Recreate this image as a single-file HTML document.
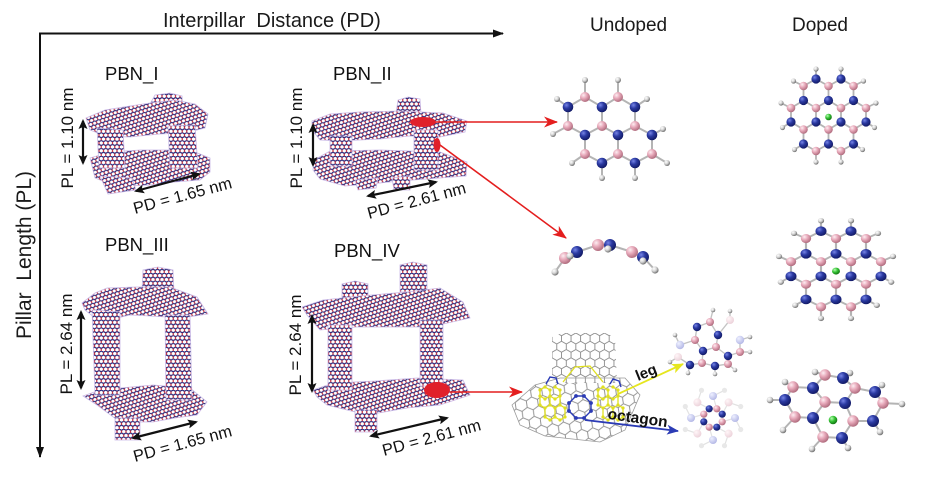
<!DOCTYPE html>
<html><head><meta charset="utf-8"><style>
html,body{margin:0;padding:0;background:#fff;}
svg{display:block;font-family:"Liberation Sans",Arial,sans-serif;}
</style></head><body>
<svg width="925" height="478" viewBox="0 0 925 478" xmlns="http://www.w3.org/2000/svg">
<defs>
<radialGradient id="gB" cx="35%" cy="32%" r="70%"><stop offset="0" stop-color="#7684e6"/><stop offset="0.45" stop-color="#2b3aa2"/><stop offset="1" stop-color="#121a66"/></radialGradient>
<radialGradient id="gP" cx="35%" cy="32%" r="70%"><stop offset="0" stop-color="#fdeef2"/><stop offset="0.45" stop-color="#e8aabb"/><stop offset="1" stop-color="#b06c7e"/></radialGradient>
<radialGradient id="gH" cx="35%" cy="32%" r="70%"><stop offset="0" stop-color="#ffffff"/><stop offset="0.5" stop-color="#d4d4d4"/><stop offset="1" stop-color="#6c6c6c"/></radialGradient>
<radialGradient id="gG" cx="35%" cy="32%" r="70%"><stop offset="0" stop-color="#b9ffb3"/><stop offset="0.5" stop-color="#34c234"/><stop offset="1" stop-color="#137313"/></radialGradient>
<radialGradient id="gLB" cx="35%" cy="32%" r="70%"><stop offset="0" stop-color="#eef0ff"/><stop offset="1" stop-color="#b4b8e6"/></radialGradient>
<radialGradient id="gLP" cx="35%" cy="32%" r="70%"><stop offset="0" stop-color="#fff6f8"/><stop offset="1" stop-color="#ecd2da"/></radialGradient>

<pattern id="bn" width="4.157" height="7.2" patternUnits="userSpaceOnUse" patternTransform="rotate(-18)">
<rect width="4.157" height="7.2" fill="#fff"/>
<path d="M0,1.2L2.078,0L4.157,1.2M4.157,3.6L2.078,4.8L0,3.6" stroke="#23257a" stroke-width="1.2" fill="none"/>
<path d="M0,1.2V3.6M4.157,1.2V3.6M2.078,4.8V7.2" stroke="#c23444" stroke-width="1.2" fill="none"/>
</pattern>
<pattern id="bnv" width="4.5" height="7.8" patternUnits="userSpaceOnUse">
<rect width="4.5" height="7.8" fill="#fff"/>
<path d="M0,1.3L2.25,0L4.5,1.3M4.5,3.9L2.25,5.2L0,3.9" stroke="#23257a" stroke-width="1.25" fill="none"/>
<path d="M0,1.3V3.9M4.5,1.3V3.9M2.25,5.2V7.8" stroke="#c23444" stroke-width="1.25" fill="none"/>
</pattern>
<pattern id="gh" width="11.26" height="19.5" patternUnits="userSpaceOnUse" patternTransform="translate(512,380) rotate(-8)">
<path d="M5.63,0L11.26,3.25V9.75L5.63,13L0,9.75V3.25Z M5.63,13V19.5" stroke="#8a8a8a" stroke-width="0.9" fill="none"/>
</pattern>
<pattern id="gt" width="9.53" height="16.5" patternUnits="userSpaceOnUse" patternTransform="translate(552,333)">
<rect width="9.53" height="16.5" fill="#fff"/>
<path d="M4.765,0L9.53,2.75V8.25L4.765,11L0,8.25V2.75Z M4.765,11V16.5" stroke="#8a8a8a" stroke-width="0.9" fill="none"/>
</pattern>

<marker id="ak" markerWidth="11" markerHeight="10" refX="8" refY="5" orient="auto-start-reverse" markerUnits="userSpaceOnUse"><path d="M0,0.5 L10,5 L0,9.5 L2,5Z" fill="#111"/></marker>
<marker id="ax" markerWidth="12" markerHeight="9" refX="10" refY="4.5" orient="auto" markerUnits="userSpaceOnUse"><path d="M0,0.5 L11,4.5 L0,8.5Z" fill="#111"/></marker>
<marker id="ar" markerWidth="15" markerHeight="11" refX="13" refY="5.5" orient="auto" markerUnits="userSpaceOnUse"><path d="M0,0 L14,5.5 L0,11 L4,5.5Z" fill="#e41e1e"/></marker>
<marker id="ay" markerWidth="13" markerHeight="10" refX="11" refY="5" orient="auto" markerUnits="userSpaceOnUse"><path d="M0,0 L12,5 L0,10 L3,5Z" fill="#e6e61e"/></marker>
<marker id="ab" markerWidth="13" markerHeight="10" refX="11" refY="5" orient="auto" markerUnits="userSpaceOnUse"><path d="M0,0 L12,5 L0,10 L3,5Z" fill="#2b3bb5"/></marker>

<g id="dop">
<path d="M-12.5,-36L-25,-29V-14.5L-37.5,-7V7L-25,14.5V29L-12.5,36L0,29L12.5,36L25,29V14.5L37.5,7V-7L25,-14.5V-29L12.5,-36L0,-29L-12.5,-36
M0,-29V-14.5L-12.5,-7L-25,-14.5 M0,-14.5L12.5,-7L25,-14.5 M-12.5,-7V7L-25,14.5 M12.5,-7V7L25,14.5 M-12.5,7L0,14.5L12.5,7 M0,14.5V29
M-12.5,-36V-46 M12.5,-36V-46 M-25,-29L-35,-34 M25,-29L35,-34 M-37.5,-7L-47.5,-12 M37.5,-7L47.5,-12 M-37.5,7L-46,12.5 M37.5,7L46,12.5 M-25,29L-34,34.5 M25,29L34,34.5 M-12.5,36V47 M12.5,36V47" stroke="#b4b4b4" stroke-width="1.8" fill="none"/>
<g fill="url(#gH)">
<circle cx="-12.5" cy="-46" r="2.6"/><circle cx="12.5" cy="-46" r="2.6"/><circle cx="-35" cy="-34" r="2.6"/><circle cx="35" cy="-34" r="2.6"/>
<circle cx="-47.5" cy="-12" r="2.6"/><circle cx="47.5" cy="-12" r="2.6"/><circle cx="-46" cy="12.5" r="2.6"/><circle cx="46" cy="12.5" r="2.6"/>
<circle cx="-34" cy="34.5" r="2.6"/><circle cx="34" cy="34.5" r="2.6"/><circle cx="-12.5" cy="47" r="2.6"/><circle cx="12.5" cy="47" r="2.6"/>
</g>
<g fill="url(#gP)">
<circle cx="-25" cy="-29" r="4.3"/><circle cx="0" cy="-29" r="4.3"/><circle cx="25" cy="-29" r="4.3"/>
<circle cx="-37.5" cy="-7" r="4.3"/><circle cx="-12.5" cy="-7" r="4.3"/><circle cx="12.5" cy="-7" r="4.3"/><circle cx="37.5" cy="-7" r="4.3"/>
<circle cx="-25" cy="14.5" r="4.3"/><circle cx="0" cy="14.5" r="4.3"/><circle cx="25" cy="14.5" r="4.3"/>
<circle cx="-12.5" cy="36" r="4.3"/><circle cx="12.5" cy="36" r="4.3"/>
</g>
<g fill="url(#gB)">
<circle cx="-12.5" cy="-36" r="4.6"/><circle cx="12.5" cy="-36" r="4.6"/>
<circle cx="-25" cy="-14.5" r="4.6"/><circle cx="0" cy="-14.5" r="4.6"/><circle cx="25" cy="-14.5" r="4.6"/>
<circle cx="-37.5" cy="7" r="4.6"/><circle cx="-12.5" cy="7" r="4.6"/><circle cx="12.5" cy="7" r="4.6"/><circle cx="37.5" cy="7" r="4.6"/>
<circle cx="-25" cy="29" r="4.6"/><circle cx="0" cy="29" r="4.6"/><circle cx="25" cy="29" r="4.6"/>
</g>
<circle cx="0" cy="2" r="3.3" fill="url(#gG)"/>
</g>
</defs>

<!-- Axes -->
<line x1="40" y1="33.5" x2="503" y2="33.5" stroke="#111" stroke-width="2" marker-end="url(#ax)"/>
<line x1="40" y1="32.5" x2="40" y2="457" stroke="#111" stroke-width="2" marker-end="url(#ax)"/>
<text x="163" y="27" font-size="20" fill="#1a1a1a">Interpillar&#160; Distance (PD)</text>
<text transform="translate(31,255) rotate(-90)" text-anchor="middle" font-size="21" fill="#1a1a1a">Pillar&#160; Length (PL)</text>

<text x="590" y="31" font-size="19" fill="#1a1a1a">Undoped</text>
<text x="792" y="31" font-size="19" fill="#1a1a1a">Doped</text>

<!-- labels -->
<g font-size="18.5" fill="#111">
<text x="105" y="80">PBN_I</text>
<text x="333" y="80">PBN_II</text>
<text x="105" y="251">PBN_III</text>
<text x="334" y="257">PBN_IV</text>
</g>
<g font-size="17" fill="#111" text-anchor="middle">
<text transform="translate(73,138) rotate(-90)">PL = 1.10 nm</text>
<text transform="translate(302,138) rotate(-90)">PL = 1.10 nm</text>
<text transform="translate(72,344) rotate(-90)">PL = 2.64 nm</text>
<text transform="translate(301,345) rotate(-90)">PL = 2.64 nm</text>
</g>
<g font-size="16.5" fill="#111">
<text transform="translate(135,214) rotate(-15)">PD = 1.65 nm</text>
<text transform="translate(369,219) rotate(-15)">PD = 2.61 nm</text>
<text transform="translate(135,462) rotate(-15)">PD = 1.65 nm</text>
<text transform="translate(384,456) rotate(-15)">PD = 2.61 nm</text>
</g>

<!-- PBN_I structure -->
<g stroke="#c9b8e6" stroke-width="0.8">
<polygon points="150,104 155,95 170,93 182,96 183,108 165,110" fill="url(#bnv)"/>
<polygon points="90,158 110,152 140,150 170,150 195,152 210,158 210,172 200,180 175,182 150,185 130,186 110,184 95,178" fill="url(#bn)"/>
<polygon points="100,176 132,178 136,190 108,194" fill="url(#bn)"/>
<polygon points="86,118 105,110 130,106 150,103 175,100 195,104 208,114 205,128 185,133 160,134 130,137 105,136 90,130" fill="url(#bn)"/>
<polygon points="97,128 123,130 125,168 99,168" fill="url(#bnv)"/>
<polygon points="168,126 195,125 198,168 170,168" fill="url(#bnv)"/>
</g>

<!-- PBN_II structure -->
<g stroke="#c9b8e6" stroke-width="0.8">
<polygon points="396,113 398,100 408,97 420,99 421,114" fill="url(#bnv)"/>
<polygon points="314,160 330,151 380,150 440,152 467,162 466,176 440,178 400,181 370,184 345,186 320,179 313,170" fill="url(#bn)"/>
<polygon points="392,178 410,176 410,190 394,190" fill="url(#bnv)"/>
<polygon points="355,180 378,178 376,188 358,190" fill="url(#bn)"/>
<polygon points="312,121 330,114 360,112 400,111 443,113 467,121 465,132 440,137 410,136 380,139 340,141 320,140 312,130" fill="url(#bn)"/>
<polygon points="330,136 352,136 352,166 330,166" fill="url(#bnv)"/>
<polygon points="414,130 438,130 438,170 414,170" fill="url(#bnv)"/>
</g>
<ellipse cx="423" cy="122" rx="13" ry="5" fill="#e0202a"/>
<ellipse cx="437" cy="145" rx="3.5" ry="7" fill="#e0202a"/>

<!-- PBN_III structure -->
<g stroke="#c9b8e6" stroke-width="0.8">
<polygon points="142,290 143,270 158,267 173,270 174,292" fill="url(#bnv)"/>
<polygon points="83,396 100,390 120,388 153,385 190,388 207,402 197,415 175,418 153,422 120,422 97,405" fill="url(#bn)"/>
<polygon points="115,418 140,418 140,440 115,440" fill="url(#bnv)"/>
<polygon points="82,303 95,293 107,288 137,287 170,287 197,297 208,314 182,318 150,316 130,315 100,322 85,310" fill="url(#bn)"/>
<polygon points="92,310 120,312 120,395 95,395" fill="url(#bnv)"/>
<polygon points="165,315 190,315 192,400 166,400" fill="url(#bnv)"/>
</g>

<!-- PBN_IV structure -->
<g stroke="#c9b8e6" stroke-width="0.8">
<polygon points="342,305 342,284 355,281 368,284 368,305" fill="url(#bnv)"/>
<polygon points="400,292 400,265 413,262 427,265 427,292" fill="url(#bnv)"/>
<polygon points="313,390 333,383 375,381 417,378 463,380 470,395 440,405 407,408 367,415 327,405 317,397" fill="url(#bn)"/>
<polygon points="355,410 377,410 377,432 355,432" fill="url(#bnv)"/>
<polygon points="302,307 323,300 360,296 407,292 440,288 463,302 470,318 430,327 395,327 357,327 320,330 307,315" fill="url(#bn)"/>
<polygon points="328,325 352,325 352,390 328,390" fill="url(#bnv)"/>
<polygon points="420,320 443,320 443,386 420,386" fill="url(#bnv)"/>
</g>
<ellipse cx="437" cy="390" rx="13" ry="8" fill="#e0202a"/>

<!-- black dimension arrows -->
<g stroke="#111" stroke-width="2.2" fill="none">
<line x1="83" y1="121" x2="83" y2="163" marker-start="url(#ak)" marker-end="url(#ak)"/>
<line x1="313" y1="125" x2="313" y2="165" marker-start="url(#ak)" marker-end="url(#ak)"/>
<line x1="81" y1="312" x2="81" y2="388" marker-start="url(#ak)" marker-end="url(#ak)"/>
<line x1="312" y1="316" x2="312" y2="391" marker-start="url(#ak)" marker-end="url(#ak)"/>
<line x1="136" y1="191" x2="199" y2="174" marker-start="url(#ak)" marker-end="url(#ak)"/>
<line x1="368" y1="196" x2="436" y2="182" marker-start="url(#ak)" marker-end="url(#ak)"/>
<line x1="133" y1="438" x2="196" y2="422" marker-start="url(#ak)" marker-end="url(#ak)"/>
<line x1="371" y1="436" x2="447" y2="418" marker-start="url(#ak)" marker-end="url(#ak)"/>
</g>

<!-- red arrows -->
<g stroke="#e41e1e" stroke-width="1.6" fill="none">
<line x1="436" y1="122" x2="557" y2="122" marker-end="url(#ar)"/>
<line x1="440" y1="145" x2="566" y2="238" marker-end="url(#ar)"/>
<line x1="450" y1="392" x2="522" y2="392" marker-end="url(#ar)"/>
</g>

<!-- Undoped top molecule -->
<path d="M568,107L585,97L602,107L618,97L635,107 M568,107V126L585,135L602,126L618,135L635,126L652,135 M602,107V126 M635,107V126 M585,135V154L602,163L618,154L635,163L652,154V135 M618,135V154 M585,97V80 M618,97V80 M568,107L557,99 M635,107L647,99 M568,126L553,134 M652,135L663,129 M585,154L572,163 M652,154L667,163 M602,163V178 M635,163V178" stroke="#b4b4b4" stroke-width="2" fill="none"/>
<g fill="url(#gH)">
<circle cx="585" cy="80" r="3"/><circle cx="618" cy="80" r="3"/><circle cx="557" cy="99" r="3"/><circle cx="647" cy="99" r="3"/>
<circle cx="553" cy="134" r="3"/><circle cx="663" cy="129" r="3"/><circle cx="572" cy="163" r="3"/><circle cx="667" cy="163" r="3"/>
<circle cx="602" cy="178" r="3"/><circle cx="635" cy="178" r="3"/>
</g>
<g fill="url(#gP)">
<circle cx="585" cy="97" r="5"/><circle cx="618" cy="97" r="5"/><circle cx="568" cy="126" r="5"/><circle cx="602" cy="126" r="5"/>
<circle cx="635" cy="126" r="5"/><circle cx="585" cy="154" r="5"/><circle cx="618" cy="154" r="5"/><circle cx="652" cy="154" r="5"/>
</g>
<g fill="url(#gB)">
<circle cx="568" cy="107" r="5.3"/><circle cx="602" cy="107" r="5.3"/><circle cx="635" cy="107" r="5.3"/><circle cx="585" cy="135" r="5.3"/>
<circle cx="618" cy="135" r="5.3"/><circle cx="652" cy="135" r="5.3"/><circle cx="602" cy="163" r="5.3"/><circle cx="635" cy="163" r="5.3"/>
</g>

<!-- Undoped middle (curved) -->
<path d="M555,272L565,258 M577,252L598,245 M610,245L632,252 M643,257L655,270" stroke="#b4b4b4" stroke-width="2" fill="none"/>
<circle cx="555" cy="272" r="3.6" fill="url(#gH)"/>
<circle cx="655" cy="270" r="3.6" fill="url(#gH)"/>
<circle cx="565" cy="258" r="6" fill="url(#gP)"/>
<circle cx="577" cy="252" r="6" fill="url(#gB)"/>
<circle cx="570" cy="256" r="3.6" fill="url(#gH)"/>
<circle cx="598" cy="245" r="6" fill="url(#gP)"/>
<circle cx="610" cy="245" r="6" fill="url(#gB)"/>
<circle cx="608" cy="249" r="3.6" fill="url(#gH)"/>
<circle cx="632" cy="252" r="6" fill="url(#gP)"/>
<circle cx="643" cy="257" r="6" fill="url(#gB)"/>
<circle cx="643" cy="261" r="3.6" fill="url(#gH)"/>

<!-- Doped molecules -->
<use href="#dop" transform="translate(828.5,115)"/>
<use href="#dop" transform="translate(836,269) scale(1.2,1.05)"/>

<!-- Doped bottom -->
<path d="M825,375L843,378L855,388L845,403L825,402L813,388Z M813,388L793,387L785,400L795,417L813,418L825,402 M855,388L875,392L883,403L873,421L853,421L845,403 M813,418L823,437L842,438L853,421 M825,375L815,372 M843,378L850,373 M793,387L785,382 M875,392L882,385 M785,400L770,400 M883,403L902,404 M795,417L783,430 M873,421L880,432 M823,437L812,449 M842,438L848,448" stroke="#b4b4b4" stroke-width="2" fill="none"/>
<g fill="url(#gH)">
<circle cx="815" cy="372" r="3.3"/><circle cx="850" cy="373" r="3.3"/><circle cx="785" cy="382" r="3.3"/><circle cx="882" cy="385" r="3.3"/>
<circle cx="770" cy="400" r="3.3"/><circle cx="902" cy="404" r="3.3"/><circle cx="783" cy="430" r="3.3"/><circle cx="880" cy="432" r="3.3"/>
<circle cx="812" cy="449" r="3.3"/><circle cx="848" cy="448" r="3.3"/>
</g>
<g fill="url(#gP)">
<circle cx="825" cy="375" r="5.7"/><circle cx="855" cy="388" r="5.7"/><circle cx="825" cy="402" r="5.7"/><circle cx="793" cy="387" r="5.7"/>
<circle cx="795" cy="417" r="5.7"/><circle cx="883" cy="403" r="5.7"/><circle cx="853" cy="421" r="5.7"/><circle cx="823" cy="437" r="5.7"/>
</g>
<g fill="url(#gB)">
<circle cx="843" cy="378" r="6"/><circle cx="845" cy="403" r="6"/><circle cx="813" cy="388" r="6"/><circle cx="785" cy="400" r="6"/>
<circle cx="813" cy="418" r="6"/><circle cx="875" cy="392" r="6"/><circle cx="873" cy="421" r="6"/><circle cx="842" cy="438" r="6"/>
</g>
<circle cx="833" cy="420" r="4.3" fill="url(#gG)"/>

<!-- Wireframe tube on sheet -->
<polygon points="512,405 535,385 560,378 625,378 640,395 625,430 600,442 545,436 520,425" fill="url(#gh)"/>
<polygon points="552,383 552,337 562,333 605,333 615,337 617,383" fill="url(#gt)"/>
<polygon points="512,405 535,385 560,378 625,378 640,395 625,430 600,442 545,436 520,425" fill="none" stroke="#9a9a9a" stroke-width="0.8"/>
<g stroke="#e0e020" stroke-width="1.3" fill="none">
<path d="M563,382L575,367L590,366L603,382"/>
<path d="M545,387L550,390V396L545,399L540,396V390Z M555,387L560,390V396L555,399L550,396 M550,396V405L545,408L540,405V396 M560,396V405L555,408L550,405 M545,408V417L550,420L555,417V408 M555,417L560,420L565,417V408L560,405"/>
<path d="M603,387L608,390V396L603,399L598,396V390Z M613,387L618,390V396L613,399L608,396 M608,396V405L603,408L598,405V396 M618,396V405L613,408L608,405 M603,408V417L608,420L613,417V408 M613,417L618,420L623,417V408L618,405"/>
</g>
<g fill="#e0e020">
<circle cx="545" cy="387" r="1.6"/><circle cx="550" cy="390" r="1.6"/><circle cx="550" cy="396" r="1.6"/><circle cx="545" cy="399" r="1.6"/><circle cx="540" cy="396" r="1.6"/><circle cx="540" cy="390" r="1.6"/>
<circle cx="555" cy="387" r="1.6"/><circle cx="560" cy="390" r="1.6"/><circle cx="560" cy="396" r="1.6"/><circle cx="555" cy="399" r="1.6"/>
<circle cx="550" cy="405" r="1.6"/><circle cx="545" cy="408" r="1.6"/><circle cx="540" cy="405" r="1.6"/><circle cx="560" cy="405" r="1.6"/><circle cx="555" cy="408" r="1.6"/>
<circle cx="545" cy="417" r="1.6"/><circle cx="550" cy="420" r="1.6"/><circle cx="555" cy="417" r="1.6"/><circle cx="560" cy="420" r="1.6"/><circle cx="565" cy="417" r="1.6"/><circle cx="565" cy="408" r="1.6"/>
<circle cx="603" cy="387" r="1.6"/><circle cx="608" cy="390" r="1.6"/><circle cx="608" cy="396" r="1.6"/><circle cx="603" cy="399" r="1.6"/><circle cx="598" cy="396" r="1.6"/><circle cx="598" cy="390" r="1.6"/>
<circle cx="613" cy="387" r="1.6"/><circle cx="618" cy="390" r="1.6"/><circle cx="618" cy="396" r="1.6"/><circle cx="613" cy="399" r="1.6"/>
<circle cx="608" cy="405" r="1.6"/><circle cx="603" cy="408" r="1.6"/><circle cx="598" cy="405" r="1.6"/><circle cx="618" cy="405" r="1.6"/><circle cx="613" cy="408" r="1.6"/>
<circle cx="603" cy="417" r="1.6"/><circle cx="608" cy="420" r="1.6"/><circle cx="613" cy="417" r="1.6"/><circle cx="618" cy="420" r="1.6"/><circle cx="623" cy="417" r="1.6"/><circle cx="623" cy="408" r="1.6"/>
</g>
<g stroke="#2b3bb5" stroke-width="1.4" fill="none">
<polygon points="584,396 591,403 591,411 584,418 576,418 569,411 569,403 576,396"/>
<path d="M546,384L550,377L556,378L558,384 M610,384L613,379L619,381L621,387"/>
</g>
<g fill="#2b3bb5">
<circle cx="584" cy="396" r="1.9"/><circle cx="591" cy="403" r="1.9"/><circle cx="591" cy="411" r="1.9"/><circle cx="584" cy="418" r="1.9"/>
<circle cx="576" cy="418" r="1.9"/><circle cx="569" cy="411" r="1.9"/><circle cx="569" cy="403" r="1.9"/><circle cx="576" cy="396" r="1.9"/>
</g>

<!-- leg / octagon arrows -->
<line x1="618" y1="394" x2="683" y2="364" stroke="#e6e61e" stroke-width="1.8" marker-end="url(#ay)"/>
<line x1="585" y1="420" x2="678" y2="431" stroke="#2b3bb5" stroke-width="1.8" marker-end="url(#ab)"/>
<text transform="translate(648,377) rotate(-22)" text-anchor="middle" font-size="15" font-weight="bold" fill="#111">leg</text>
<text transform="translate(637,423) rotate(8)" text-anchor="middle" font-size="15.5" font-weight="bold" fill="#111">octagon</text>

<!-- leg molecule -->
<path d="M697,327L710,322L718,335L716,347L703,351L695,340Z M718,335L730,320 M716,347L728,356L740,352L740,340 M703,351L702,363L690,365 M702,363L715,366L728,364L728,356 M695,340L680,345 M690,365L678,357 M710,322L713,310 M730,320L730,311 M680,345L675,335 M740,340L750,337 M740,352L750,352 M678,357L670,362 M690,365L688,373 M715,366L715,374 M728,364L735,370" stroke="#c4c4c4" stroke-width="1.4" fill="none"/>
<g fill="url(#gH)">
<circle cx="713" cy="310" r="2.3"/><circle cx="730" cy="311" r="2.3"/><circle cx="675" cy="335" r="2.3"/><circle cx="750" cy="337" r="2.3"/>
<circle cx="750" cy="352" r="2.3"/><circle cx="670" cy="362" r="2.3"/><circle cx="688" cy="373" r="2.3"/><circle cx="715" cy="374" r="2.3"/><circle cx="735" cy="370" r="2.3"/>
</g>
<circle cx="730" cy="320" r="4" fill="url(#gLP)"/>
<circle cx="680" cy="345" r="4.2" fill="url(#gLB)"/>
<circle cx="740" cy="340" r="4.2" fill="url(#gLB)"/>
<circle cx="678" cy="357" r="4" fill="url(#gLP)"/>
<g fill="url(#gP)">
<circle cx="710" cy="322" r="4"/><circle cx="695" cy="340" r="4"/><circle cx="716" cy="347" r="4"/><circle cx="740" cy="352" r="4"/><circle cx="702" cy="363" r="4"/><circle cx="728" cy="364" r="4"/>
</g>
<g fill="url(#gB)">
<circle cx="697" cy="327" r="4.2"/><circle cx="718" cy="335" r="4.2"/><circle cx="703" cy="351" r="4.2"/><circle cx="728" cy="356" r="4.2"/><circle cx="690" cy="365" r="4.2"/><circle cx="715" cy="366" r="4.2"/>
</g>

<!-- octagon molecule (faded) -->
<g stroke="#e2e2e2" stroke-width="1.2" fill="none">
<polygon points="722.2,421.8 716.8,427.2 709.2,427.2 703.8,421.8 703.8,414.2 709.2,408.8 716.8,408.8 722.2,414.2"/>
<path d="M722.2,421.8L735,418 M716.8,427.2L728.6,433.6 M709.2,427.2L713,440 M703.8,421.8L697.4,433.6 M703.8,414.2L691,418 M709.2,408.8L697.4,402.4 M716.8,408.8L713,396 M722.2,414.2L728.6,402.4 M735,418L740.7,429.5 M728.6,433.6L724.5,445.7 M713,440L701.5,445.7 M697.4,433.6L685.3,429.5 M691,418L685.3,406.5 M697.4,402.4L701.5,390.3 M713,396L724.5,390.3 M728.6,402.4L740.7,406.5"/>
</g>
<g fill="#e8e8e8">
<circle cx="740.7" cy="429.5" r="2.6"/><circle cx="724.5" cy="445.7" r="2.6"/><circle cx="701.5" cy="445.7" r="2.6"/><circle cx="685.3" cy="429.5" r="2.6"/>
<circle cx="685.3" cy="406.5" r="2.6"/><circle cx="701.5" cy="390.3" r="2.6"/><circle cx="724.5" cy="390.3" r="2.6"/><circle cx="740.7" cy="406.5" r="2.6"/>
</g>
<circle cx="735" cy="418" r="4" fill="url(#gLB)"/><circle cx="728.6" cy="433.6" r="4" fill="url(#gLP)"/>
<circle cx="713" cy="440" r="4" fill="url(#gLB)"/><circle cx="697.4" cy="433.6" r="4" fill="url(#gLP)"/>
<circle cx="691" cy="418" r="4" fill="url(#gLB)"/><circle cx="697.4" cy="402.4" r="4" fill="url(#gLP)"/>
<circle cx="713" cy="396" r="4" fill="url(#gLB)"/><circle cx="728.6" cy="402.4" r="4" fill="url(#gLP)"/>
<circle cx="722.2" cy="421.8" r="3.6" fill="url(#gP)"/><circle cx="716.8" cy="427.2" r="3.6" fill="url(#gB)"/>
<circle cx="709.2" cy="427.2" r="3.6" fill="url(#gP)"/><circle cx="703.8" cy="421.8" r="3.6" fill="url(#gB)"/>
<circle cx="703.8" cy="414.2" r="3.6" fill="url(#gP)"/><circle cx="709.2" cy="408.8" r="3.6" fill="url(#gB)"/>
<circle cx="716.8" cy="408.8" r="3.6" fill="url(#gP)"/><circle cx="722.2" cy="414.2" r="3.6" fill="url(#gB)"/>
</svg>
</body></html>
